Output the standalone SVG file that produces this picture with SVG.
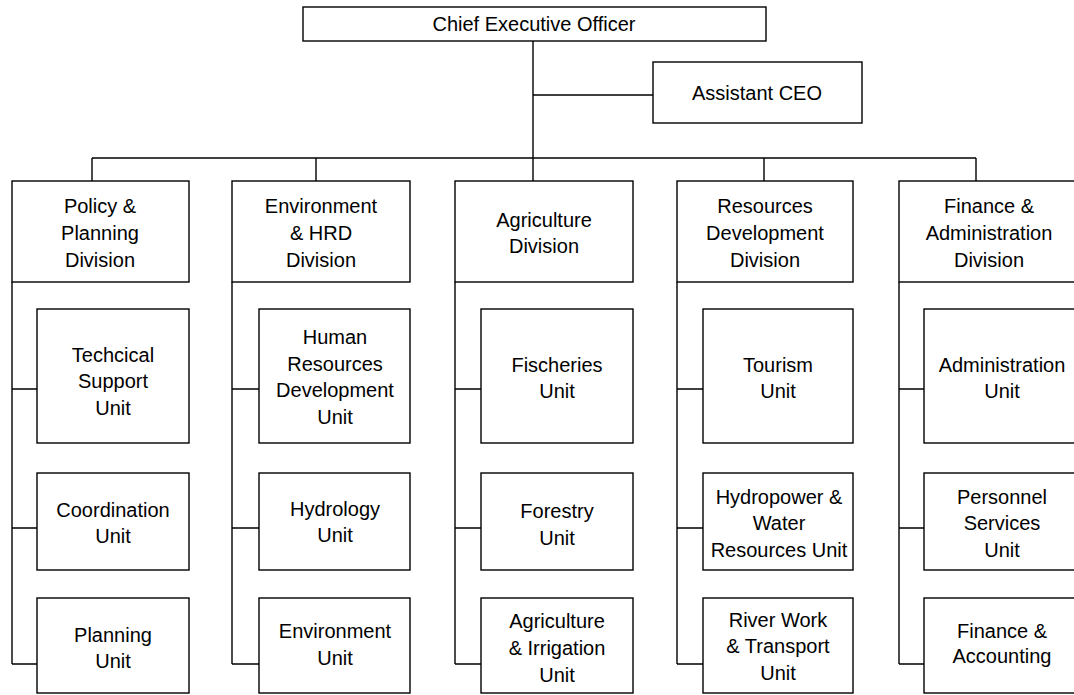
<svg xmlns="http://www.w3.org/2000/svg" width="1074" height="695" viewBox="0 0 1074 695">
<style>
  .box { fill: #ffffff; stroke: #000000; stroke-width: 1.4; }
  .ln { fill: none; stroke: #000000; stroke-width: 1.4; }
  text { font-family: "Liberation Sans", Arial, sans-serif; font-size: 20px; fill: #000000; text-anchor: middle; }
</style>
<rect x="0" y="0" width="1074" height="695" fill="#ffffff"/>
<g id="connectors">
  <path class="ln" d="M533,41 V181"/>
  <path class="ln" d="M533,95 H653"/>
  <path class="ln" d="M92,158 H976"/>
  <path class="ln" d="M92,158 V181 M316,158 V181 M764,158 V181 M976,158 V181"/>
  <path class="ln" d="M12,282 V664 M12,389 H37 M12,528 H37 M12,664 H37"/>
  <path class="ln" d="M232,282 V664 M232,389 H259 M232,528 H259 M232,664 H259"/>
  <path class="ln" d="M455,282 V664 M455,389 H481 M455,528 H481 M455,664 H481"/>
  <path class="ln" d="M677,282 V664 M677,389 H703 M677,528 H703 M677,664 H703"/>
  <path class="ln" d="M899,282 V664 M899,389 H924 M899,528 H924 M899,664 H924"/>
</g>
<g id="ceo"><rect class="box" x="303" y="7" width="463" height="34"/><text x="534" y="31">Chief Executive Officer</text></g>
<g id="assistant-ceo"><rect class="box" x="653" y="62" width="209" height="61"/><text x="757" y="100">Assistant CEO</text></g>

<g id="div-policy"><rect class="box" x="12" y="181" width="177" height="101"/>
  <text x="100" y="213">Policy &amp;</text><text x="100" y="240">Planning</text><text x="100" y="267">Division</text></g>
<g id="div-env"><rect class="box" x="232" y="181" width="178" height="101"/>
  <text x="321" y="213">Environment</text><text x="321" y="240">&amp; HRD</text><text x="321" y="267">Division</text></g>
<g id="div-agri"><rect class="box" x="455" y="181" width="178" height="101"/>
  <text x="544" y="227">Agriculture</text><text x="544" y="253">Division</text></g>
<g id="div-res"><rect class="box" x="677" y="181" width="176" height="101"/>
  <text x="765" y="213">Resources</text><text x="765" y="240">Development</text><text x="765" y="267">Division</text></g>
<g id="div-fin"><rect class="box" x="899" y="181" width="179" height="101"/>
  <text x="989" y="213">Finance &amp;</text><text x="989" y="240">Administration</text><text x="989" y="267">Division</text></g>

<g id="unit-tech"><rect class="box" x="37" y="309" width="152" height="134"/>
  <text x="113" y="362">Techcical</text><text x="113" y="388">Support</text><text x="113" y="415">Unit</text></g>
<g id="unit-coord"><rect class="box" x="37" y="473" width="152" height="97"/>
  <text x="113" y="517">Coordination</text><text x="113" y="543">Unit</text></g>
<g id="unit-planning"><rect class="box" x="37" y="598" width="152" height="95"/>
  <text x="113" y="642">Planning</text><text x="113" y="668">Unit</text></g>

<g id="unit-hrd"><rect class="box" x="259" y="309" width="151" height="134"/>
  <text x="335" y="344">Human</text><text x="335" y="371">Resources</text><text x="335" y="397">Development</text><text x="335" y="424">Unit</text></g>
<g id="unit-hydrology"><rect class="box" x="259" y="473" width="151" height="97"/>
  <text x="335" y="516">Hydrology</text><text x="335" y="542">Unit</text></g>
<g id="unit-environment"><rect class="box" x="259" y="598" width="151" height="95"/>
  <text x="335" y="638">Environment</text><text x="335" y="665">Unit</text></g>

<g id="unit-fisheries"><rect class="box" x="481" y="309" width="152" height="134"/>
  <text x="557" y="372">Fischeries</text><text x="557" y="398">Unit</text></g>
<g id="unit-forestry"><rect class="box" x="481" y="473" width="152" height="97"/>
  <text x="557" y="518">Forestry</text><text x="557" y="545">Unit</text></g>
<g id="unit-agri-irr"><rect class="box" x="481" y="598" width="152" height="95"/>
  <text x="557" y="628">Agriculture</text><text x="557" y="655">&amp; Irrigation</text><text x="557" y="682">Unit</text></g>

<g id="unit-tourism"><rect class="box" x="703" y="309" width="150" height="134"/>
  <text x="778" y="372">Tourism</text><text x="778" y="398">Unit</text></g>
<g id="unit-hydropower"><rect class="box" x="703" y="473" width="150" height="97"/>
  <text x="779" y="504">Hydropower &amp;</text><text x="779" y="530">Water</text><text x="779" y="557">Resources Unit</text></g>
<g id="unit-river"><rect class="box" x="703" y="598" width="150" height="95"/>
  <text x="778" y="627">River Work</text><text x="778" y="653">&amp; Transport</text><text x="778" y="680">Unit</text></g>

<g id="unit-admin"><rect class="box" x="924" y="309" width="156" height="134"/>
  <text x="1002" y="372">Administration</text><text x="1002" y="398">Unit</text></g>
<g id="unit-personnel"><rect class="box" x="924" y="473" width="156" height="97"/>
  <text x="1002" y="504">Personnel</text><text x="1002" y="530">Services</text><text x="1002" y="557">Unit</text></g>
<g id="unit-finance"><rect class="box" x="924" y="598" width="156" height="95"/>
  <text x="1002" y="638">Finance &amp;</text><text x="1002" y="663">Accounting</text></g>
</svg>
